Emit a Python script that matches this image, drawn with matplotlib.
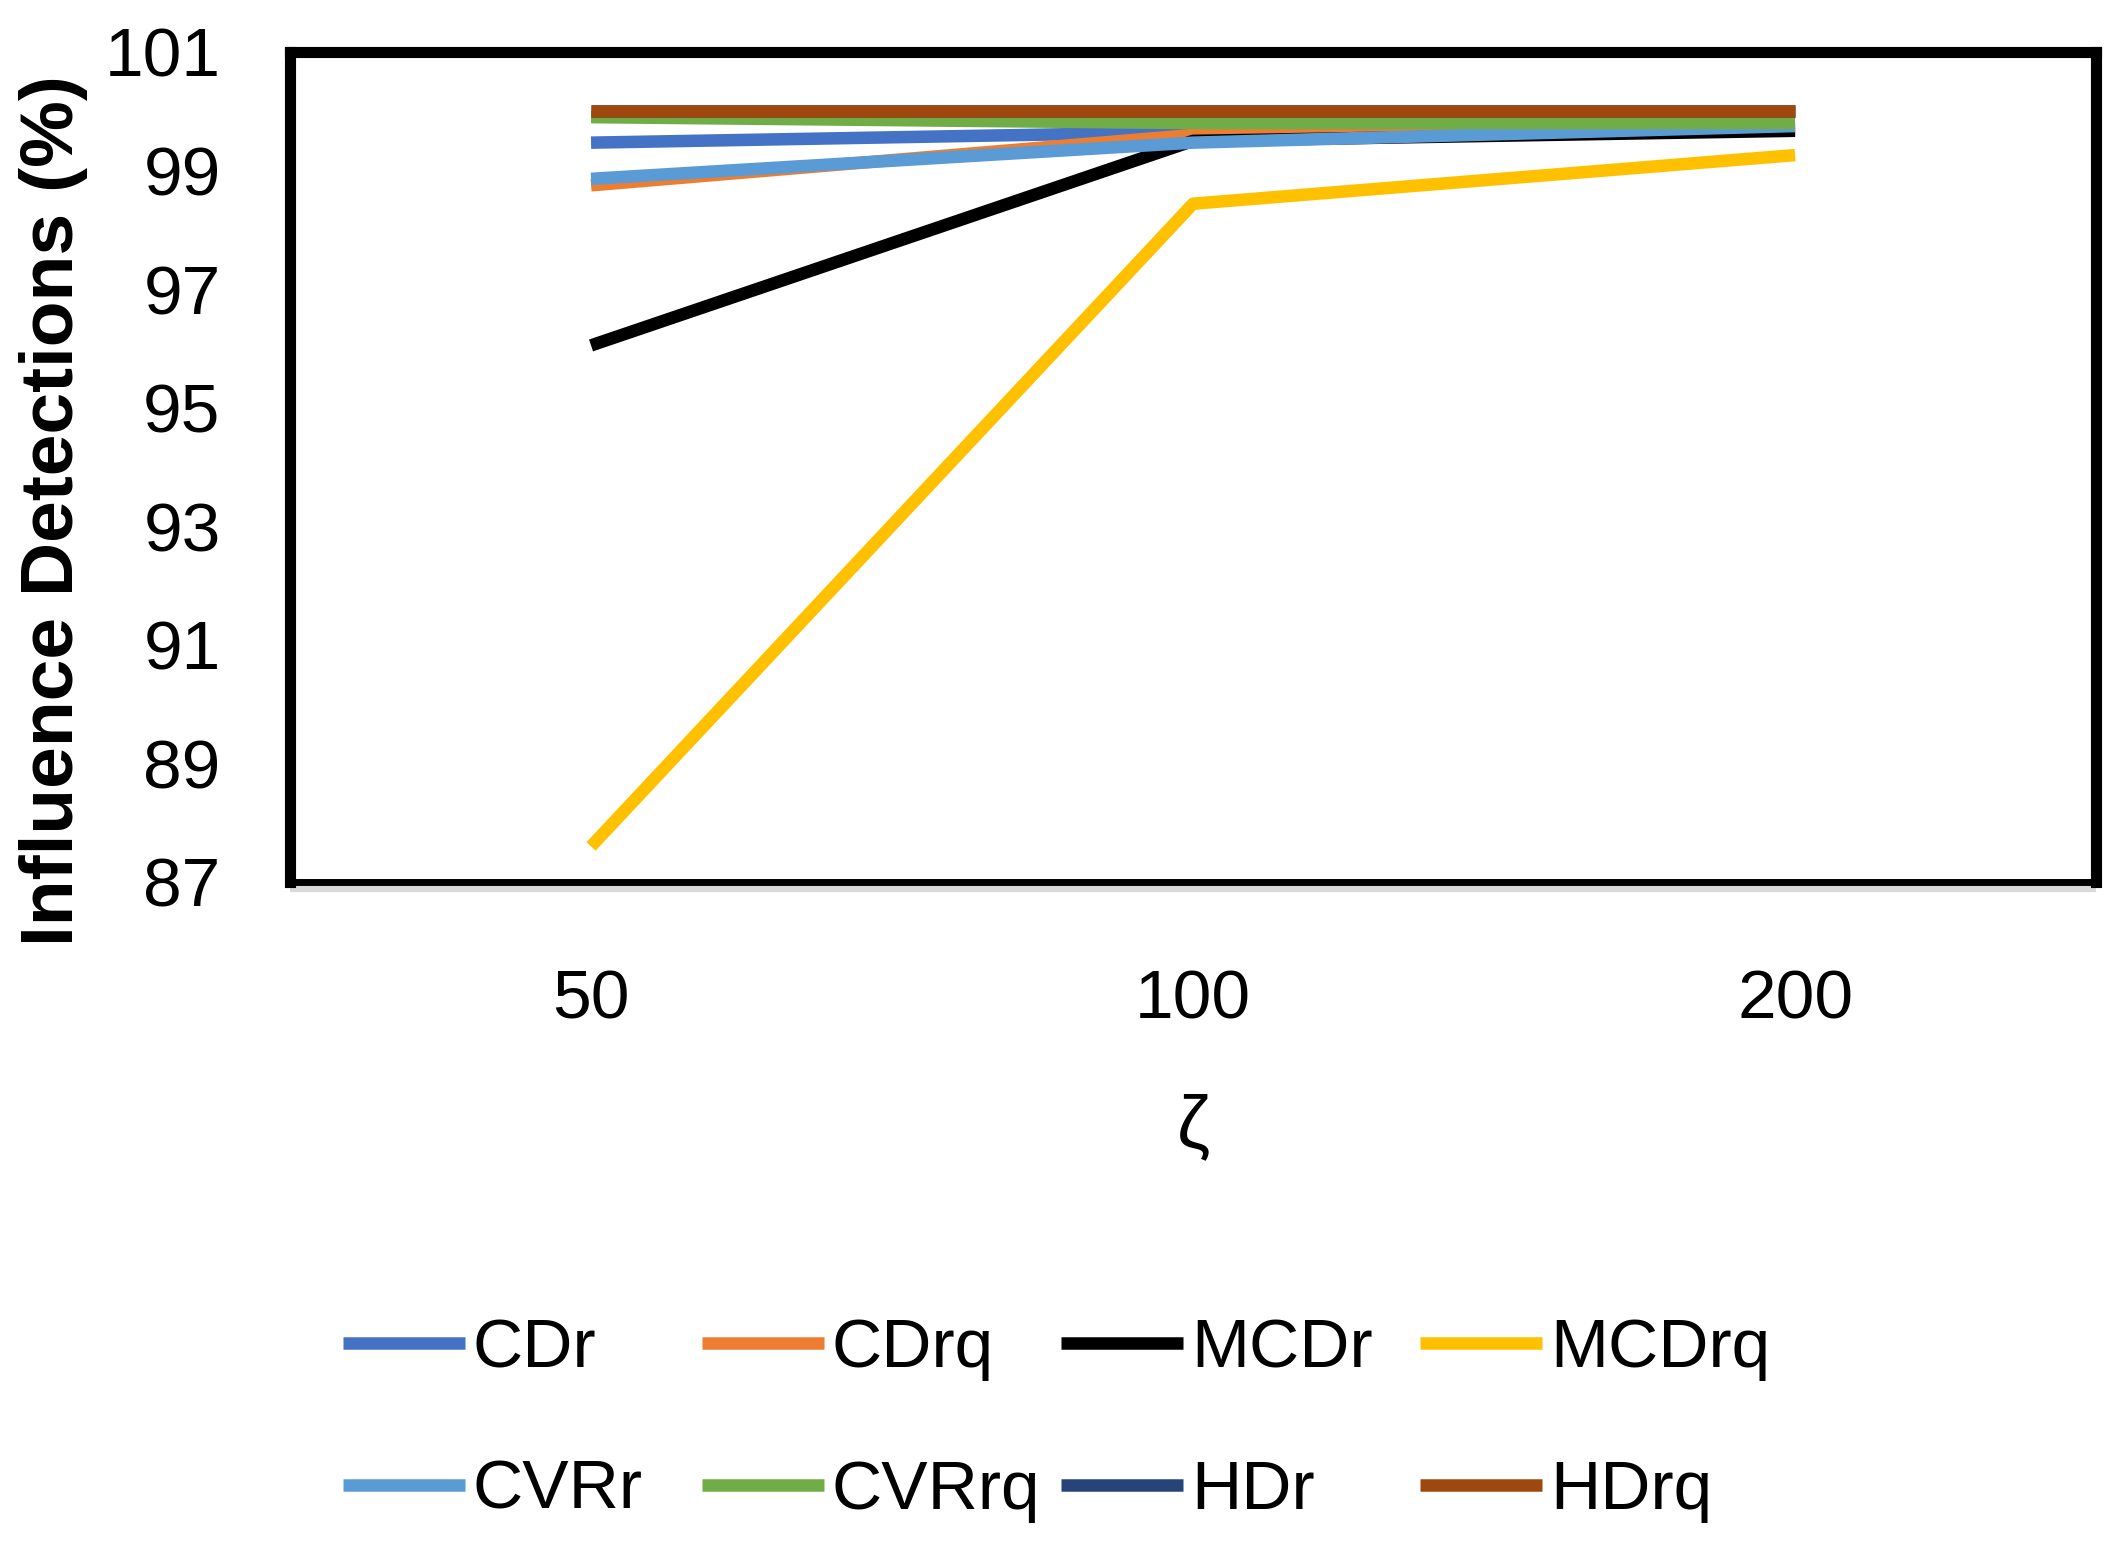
import matplotlib
matplotlib.use("Agg")
import matplotlib.pyplot as plt
from matplotlib.lines import Line2D

categories = ["50", "100", "200"]
series_names = ["CDr", "CDrq", "MCDr", "MCDrq", "CVRr", "CVRrq", "HDr", "HDrq"]
CDr = [99.47, 99.65, 99.70]
CDrq = [98.75, 99.60, 99.70]
MCDr = [96.05, 99.50, 99.67]
MCDrq = [87.60, 98.44, 99.26]
CVRr = [98.86, 99.47, 99.75]
CVRrq = [99.90, 99.80, 99.80]
HDr = [100.0, 100.0, 100.0]
HDrq = [100.0, 100.0, 100.0]
series_values = [CDr, CDrq, MCDr, MCDrq, CVRr, CVRrq, HDr, HDrq]
colors = ["#4472C4", "#ED7D31", "#000000", "#FFC000",
          "#5B9BD5", "#70AD47", "#264478", "#9E480E"]
yticks = [87, 89, 91, 93, 95, 97, 99, 101]

fam = ["Liberation Sans", "DejaVu Sans"]

fig = plt.figure(figsize=(21.28, 15.55), dpi=100)
ax = fig.add_axes([0.1363, 0.4328, 0.8487, 0.5338])

x = list(range(len(categories)))
for name, vals, c in zip(series_names, series_values, colors):
    ax.plot(x, vals, color=c, lw=9, solid_capstyle="butt", label=name)

ax.set_xlim(-0.5, 2.5)
ax.set_ylim(87, 101)
ax.set_yticks(yticks)
ax.set_yticklabels([str(v) for v in yticks], fontfamily=fam, fontsize=50)
ax.set_xticks(x)
ax.set_xticklabels(categories, fontfamily=fam, fontsize=50)
ax.tick_params(axis="y", length=0, pad=50)
ax.tick_params(axis="x", length=0, pad=62)

for s in ["top", "left", "right"]:
    ax.spines[s].set_linewidth(8)
    ax.spines[s].set_color("black")
ax.spines["bottom"].set_linewidth(5)
ax.spines["bottom"].set_color("black")
ax.plot([0, 1], [-0.0085, -0.0085], transform=ax.transAxes, color="#D9D9D9",
        lw=4.5, clip_on=False, solid_capstyle="butt")

ax.set_ylabel("Influence Detections (%)", fontfamily=fam,
              fontweight="bold", fontsize=54)
ax.yaxis.set_label_coords(-0.112, 0.447)
ax.set_xlabel("ζ", fontfamily=fam, fontsize=54)
ax.xaxis.set_label_coords(0.5, -0.255)

# legend: four columns of two entries each
col_x = [343, 702, 1061, 1420]
for ci in range(4):
    idx = [ci, ci + 4]
    handles = [Line2D([0], [0], color=colors[i], lw=9, solid_capstyle="butt") for i in idx]
    labels = [series_names[i] for i in idx]
    fig.legend(handles, labels, loc="center left",
               bbox_to_anchor=(col_x[ci] / 2128, 1 - 1420 / 1555),
               frameon=False, borderpad=0, borderaxespad=0,
               handlelength=1.75, handletextpad=0.12, labelspacing=1.12,
               prop={"family": fam, "size": 50})

fig.savefig("out.png", dpi=100)
